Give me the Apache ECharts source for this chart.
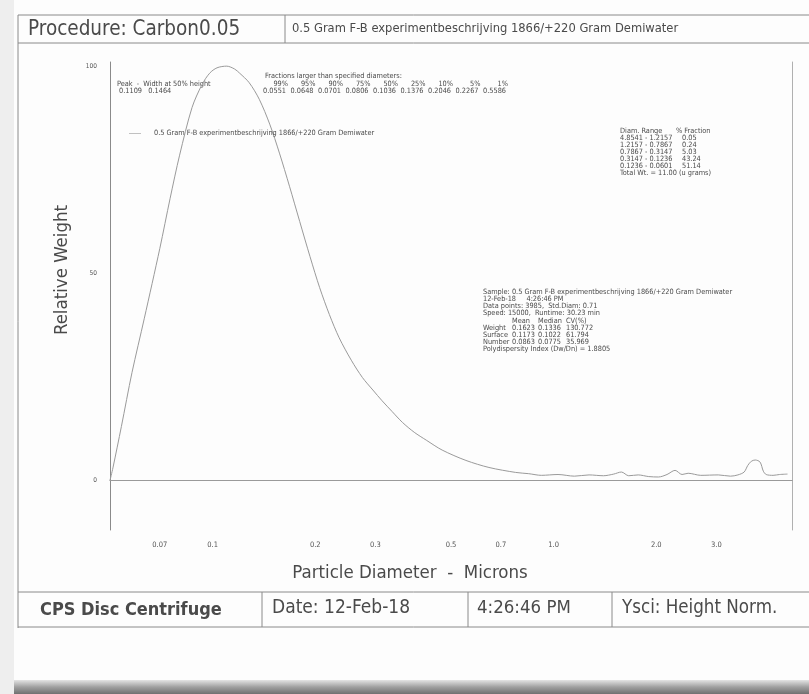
<!DOCTYPE html>
<html>
<head>
<meta charset="utf-8">
<title>CPS Disc Centrifuge - Carbon0.05</title>
<script src="https://cdn.jsdelivr.net/npm/echarts@6/dist/echarts.min.js"></script>
<style>
  html, body { margin: 0; padding: 0; background: #fff; }
  #chart { width: 809px; height: 694px; }
</style>
</head>
<body>
<div id="chart"></div>
<script>
// particle diameter (microns) and relative weight
const diameters = [0.050, 0.051, 0.054, 0.058, 0.063, 0.070, 0.075, 0.080, 0.087, 0.093,
  0.098, 0.103, 0.110, 0.116, 0.120, 0.128, 0.137, 0.147, 0.157, 0.168,
  0.180, 0.193, 0.206, 0.220, 0.235, 0.255, 0.275, 0.295, 0.314, 0.336,
  0.360, 0.390, 0.423, 0.471, 0.553, 0.646, 0.774, 0.845, 0.92, 1.03,
  1.15, 1.27, 1.40, 1.50, 1.58, 1.66, 1.77, 1.90, 2.03, 2.15,
  2.27, 2.38, 2.48, 2.70, 3.04, 3.30, 3.47, 3.62, 3.71, 3.80,
  3.90, 4.03, 4.12, 4.20, 4.40, 4.60, 4.85]
const relWeight = [0, 3, 13, 26, 39, 56, 68, 78.5, 90, 95.5,
  98.3, 99.6, 100, 99.3, 98.3, 96, 92, 86, 79, 71,
  62.5, 54, 46.5, 40, 34.4, 29, 24.8, 21.8, 19.2, 16.6,
  14.0, 11.6, 9.7, 7.3, 4.8, 3.1, 1.9, 1.6, 1.2, 1.4,
  1.0, 1.3, 1.1, 1.5, 2.0, 1.1, 1.3, 0.9, 0.8, 1.4,
  2.4, 1.4, 1.7, 1.2, 1.3, 1.0, 1.3, 2.0, 3.6, 4.6,
  4.9, 4.4, 2.2, 1.4, 1.2, 1.4, 1.5]

const xTicks = [0.07, 0.1, 0.2, 0.3, 0.5, 0.7, 1, 2, 3]
const xTickText = ['0.07', '0.1', '0.2', '0.3', '0.5', '0.7', '1.0', '2.0', '3.0']
const yTicks = [0, 50, 100]

const sampleName = '0.5 Gram F-B experimentbeschrijving 1866/+220 Gram Demiwater'

const peakLines = ['Peak  -  Width at 50% height', ' 0.1109   0.1464']
const fractionPct = ['99%', '95%', '90%', '75%', '50%', '25%', '10%', '5%', '1%']
const fractionDiam = ['0.0551', '0.0648', '0.0701', '0.0806', '0.1036', '0.1376', '0.2046', '0.2267', '0.5586']

const rangeLabels = ['Diam. Range', '4.8541 - 1.2157', '1.2157 - 0.7867', '0.7867 - 0.3147', '0.3147 - 0.1236', '0.1236 - 0.0601']
const rangeFractions = ['% Fraction', '0.05', '0.24', '5.03', '43.24', '51.14']
const totalWt = 'Total Wt. = 11.00 (u grams)'

const sampleLines = [
  'Sample: ' + sampleName,
  '12-Feb-18     4:26:46 PM',
  'Data points: 3985,  Std.Diam: 0.71',
  'Speed: 15000,  Runtime: 30.23 min'
]
const statRows = ['', 'Weight', 'Surface', 'Number']
const statMean = ['Mean', '0.1623', '0.1173', '0.0863']
const statMedian = ['Median', '0.1336', '0.1022', '0.0775']
const statCv = ['CV(%)', '130.772', '61.794', '35.969']
const polyLine = 'Polydispersity Index (Dw/Dn) = 1.8805'

const narrow = "'DejaVu Sans Condensed', 'Liberation Sans', sans-serif"
const ink = '#4a4a4a'
const tiny = '7.3px ' + narrow

function txt(x, y, text, font, align) {
  return {
    type: 'text', x: x, y: y, silent: true,
    style: { text: text, font: font, fill: ink, align: align || 'left', verticalAlign: 'middle' }
  }
}
function ln(x1, y1, x2, y2, color) {
  return { type: 'line', silent: true, shape: { x1: x1, y1: y1, x2: x2, y2: y2 },
    style: { stroke: color || '#8a8a8a', lineWidth: 1 } }
}

const graphics = []
// page edges of the scan
graphics.push({ type: 'rect', silent: true, shape: { x: 0, y: 0, width: 14, height: 694 }, style: { fill: '#eeeeee' } })
graphics.push({ type: 'rect', silent: true, z: -1, shape: { x: 0, y: 680, width: 809, height: 14 },
  style: { fill: new echarts.graphic.LinearGradient(0, 0, 0, 1, [
    { offset: 0, color: '#e4e4e4' }, { offset: 0.5, color: '#a0a0a0' }, { offset: 1, color: '#707070' }]) } })

// header box
graphics.push(ln(18, 15, 809, 15), ln(18, 43, 809, 43), ln(18, 15, 18, 628), ln(285, 15, 285, 43))
graphics.push(txt(28, 30, 'Procedure: Carbon0.05', '20.5px ' + narrow))
graphics.push(txt(292, 29, sampleName, '12.8px ' + narrow))

// footer box
graphics.push(ln(18, 592, 809, 592), ln(18, 627, 809, 627), ln(262, 592, 262, 627), ln(468, 592, 468, 627), ln(612, 592, 612, 627))
graphics.push(txt(40, 610, 'CPS Disc Centrifuge', 'bold 18px ' + narrow))
graphics.push(txt(272, 608, 'Date: 12-Feb-18', '19px ' + narrow))
graphics.push(txt(477, 608, '4:26:46 PM', '18.5px ' + narrow))
graphics.push(txt(622, 608, 'Ysci: Height Norm.', '18.6px ' + narrow))

// axis titles
graphics.push(txt(410, 573, 'Particle Diameter  -  Microns', '18.5px ' + narrow, 'center'))
graphics.push({ type: 'text', silent: true, x: 62, y: 270, rotation: Math.PI / 2,
  style: { text: 'Relative Weight', font: '18.5px ' + narrow, fill: ink, align: 'center', verticalAlign: 'middle' } })

// peak info
peakLines.forEach((t, i) => graphics.push(txt(117, 84 + i * 7, t, tiny)))

// fractions larger than
graphics.push(txt(265, 76, 'Fractions larger than specified diameters:', tiny))
fractionPct.forEach((t, i) => graphics.push(txt(288 + i * 27.5, 84, t, tiny, 'right')))
fractionDiam.forEach((t, i) => graphics.push(txt(286 + i * 27.5, 91, t, tiny, 'right')))

// diameter range table
rangeLabels.forEach((t, i) => graphics.push(txt(620, 131 + i * 7, t, tiny)))
rangeFractions.forEach((t, i) => graphics.push(txt(i === 0 ? 676 : 682, 131 + i * 7, t, tiny)))
graphics.push(txt(620, 173, totalWt, tiny))

// sample statistics block
sampleLines.forEach((t, i) => graphics.push(txt(483, 292 + i * 7, t, tiny)))
statRows.forEach((t, i) => graphics.push(txt(483, 321 + i * 7, t, tiny)))
statMean.forEach((t, i) => graphics.push(txt(512, 321 + i * 7, t, tiny)))
statMedian.forEach((t, i) => graphics.push(txt(538, 321 + i * 7, t, tiny)))
statCv.forEach((t, i) => graphics.push(txt(566, 321 + i * 7, t, tiny)))
graphics.push(txt(483, 349, polyLine, tiny))

const chart = echarts.init(document.getElementById('chart'), null, { renderer: 'canvas' })
chart.setOption({
  backgroundColor: '#fdfdfd',
  animation: false,
  grid: { left: 110, right: 17, top: 62, bottom: 164 },
  legend: {
    left: 124, top: 125, itemWidth: 12, itemHeight: 6, itemGap: 4,
    icon: 'path://M0,0 L12,0 L12,0.6 L0,0.6 Z',
    textStyle: { fontSize: 7.3, fontFamily: narrow, color: ink, padding: [0, 0, 0, 8] },
    data: [sampleName]
  },
  xAxis: {
    type: 'log', logBase: 10, min: 0.05, max: 5,
    axisLine: { show: true, lineStyle: { color: '#8a8a8a', width: 1 } },
    axisTick: { show: false },
    splitLine: { show: false },
    minorTick: { show: false },
    axisLabel: {
      customValues: xTicks,
      margin: 11, fontSize: 7.5, fontFamily: narrow, color: '#555',
      formatter: v => {
        const i = xTicks.findIndex(t => Math.abs(t - v) < 1e-6)
        return i >= 0 ? xTickText[i] : ''
      }
    }
  },
  yAxis: [{
    type: 'value', min: -12, max: 101,
    axisLine: { show: true, lineStyle: { color: '#8a8a8a', width: 1 } },
    axisTick: { show: false },
    splitLine: { show: false },
    axisLabel: { customValues: yTicks, margin: 13, fontSize: 6.5, fontFamily: narrow, color: '#555' }
  }, {
    type: 'value', min: -12, max: 101, position: 'right',
    axisLine: { show: true, lineStyle: { color: '#b0b0b0', width: 1 } },
    axisTick: { show: false }, axisLabel: { show: false }, splitLine: { show: false }
  }],
  series: [{
    name: sampleName,
    type: 'line',
    data: diameters.map((d, i) => [d, relWeight[i]]),
    smooth: 0.3,
    showSymbol: false,
    lineStyle: { color: '#9a9a9a', width: 1 },
    itemStyle: { color: '#9a9a9a' },
    markLine: {
      silent: true, symbol: 'none', label: { show: false },
      lineStyle: { color: '#9a9a9a', type: 'solid', width: 1 },
      data: [{ yAxis: 0 }]
    }
  }],
  graphic: graphics
})
</script>
</body>
</html>
